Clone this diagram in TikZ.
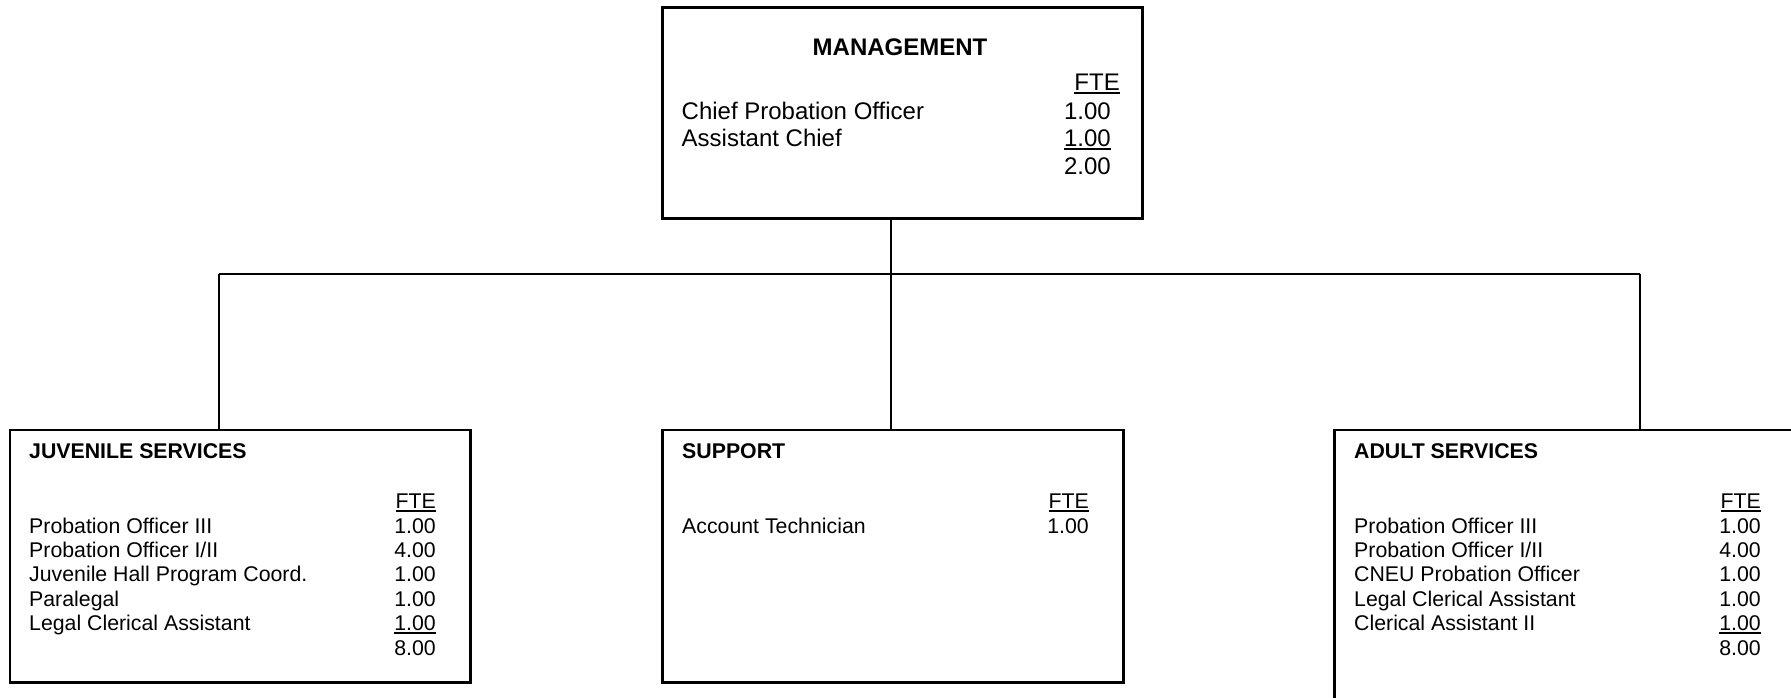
\documentclass[tikz,border=0pt]{standalone}
\usepackage{fontspec}
\setmainfont{Liberation Sans}
\newcommand\myul[1]{\setbox0\hbox{#1}\rlap{\rule[-3.5pt]{\wd0}{2pt}}\box0}
\begin{document}
\begin{tikzpicture}[x=1pt,y=-1pt,
  box/.style={draw, line width=2.5pt, inner sep=0pt, anchor=north west},
  conn/.style={line width=2pt},
  lbl/.style={anchor=base west, inner sep=0pt, font=\fontsize{21.3}{25}\selectfont},
  num/.style={anchor=base east, inner sep=0pt, font=\fontsize{21.3}{25}\selectfont},
  head/.style={anchor=base west, inner sep=0pt, font=\fontsize{21.3}{25}\selectfont\bfseries},
  mlbl/.style={anchor=base west, inner sep=0pt, font=\fontsize{24}{28}\selectfont},
  mnum/.style={anchor=base east, inner sep=0pt, font=\fontsize{24}{28}\selectfont},
]
\useasboundingbox (0,0) rectangle (1791,697);
\begin{scope}
\clip (0,0) rectangle (1791,697);
% boxes
\node[box, minimum width=480pt, minimum height=211pt] (mgmt) at (661,6) {};
\node[box, minimum width=460.5pt, minimum height=252.5pt] (juv) at (8.5,428.5) {};
\node[box, minimum width=461pt, minimum height=252.5pt] (sup) at (661,428.5) {};
\node[box, minimum width=470pt, minimum height=300pt] (adu) at (1333,428.5) {};
% connectors
\coordinate (bl) at (219,274);
\coordinate (bc) at (891,274);
\coordinate (br) at (1640,274);
\draw[conn] (bc |- mgmt.south) -- (bc);
\draw[conn] (bl) -- (br);
\draw[conn] (bl) -- (bl |- juv.north);
\draw[conn] (bc) -- (bc |- sup.north);
\draw[conn] (br) -- (br |- adu.north);
% management text
\node[anchor=base, inner sep=0pt, font=\fontsize{24}{28}\selectfont\bfseries] (mt) at (900,55) {MANAGEMENT};
\node[mnum] (mf) at (1120,90) {\myul{FTE}};
\node[mlbl] (ml1) at (681.5,119.5) {Chief Probation Officer};
\node[mlbl] (ml2) at (681.5,146.5) {Assistant Chief};
\node[mnum] (mn1) at (1111,119.5) {1.00};
\node[mnum] (mn2) at (1111,146.5) {\myul{1.00}};
\node[mnum] (mn3) at (1111,174) {2.00};
% juvenile
\node[head] (jt) at (29,458) {JUVENILE SERVICES};
\node[num] (jf) at (436,508) {\myul{FTE}};
\foreach \t [count=\i] in {Probation Officer III, Probation Officer I/II, Juvenile Hall Program Coord., Paralegal, Legal Clerical Assistant}
  \node[lbl] (jl\i) at (29,508.6+24.4*\i) {\t};
\foreach \t [count=\i] in {1.00,4.00,1.00,1.00,\myul{1.00},8.00}
  \node[num] (jn\i) at (436,508.6+24.4*\i) {\t};
% support
\node[head] (st) at (682,458) {SUPPORT};
\node[num] (sf) at (1089,508) {\myul{FTE}};
\node[lbl] (sl1) at (682,533) {Account Technician};
\node[num] (sn1) at (1089,533) {1.00};
% adult
\node[head] (at) at (1354,458) {ADULT SERVICES};
\node[num] (af) at (1761,508) {\myul{FTE}};
\foreach \t [count=\i] in {Probation Officer III, Probation Officer I/II, CNEU Probation Officer, Legal Clerical Assistant, Clerical Assistant II}
  \node[lbl] (al\i) at (1354,508.6+24.4*\i) {\t};
\foreach \t [count=\i] in {1.00,4.00,1.00,1.00,\myul{1.00},8.00}
  \node[num] (an\i) at (1761,508.6+24.4*\i) {\t};
\end{scope}
\end{tikzpicture}
\end{document}
